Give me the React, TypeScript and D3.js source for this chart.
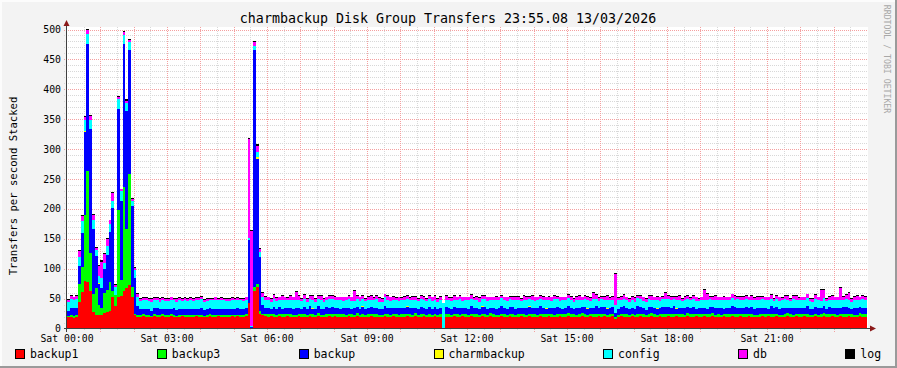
import React from 'react';
import * as d3 from 'd3';

const seriesNames = ['backup1', 'backup3', 'backup', 'charmbackup', 'config', 'db', 'log'];
const seriesColors = ['#FF0000', '#00FF00', '#0000FF', '#FFFF00', '#00FFFF', '#FF00FF', '#000000'];

// 5-minute samples, 12 per hour, 00:00 .. 23:55
const backup1 = [
  19,19,18,20,44,61,80,78,62,28,22,22,
  23,26,27,30,53,37,53,55,62,68,72,52,
  22,20,20,21,20,20,19,21,20,20,21,20,
  20,21,20,19,20,21,20,20,19,20,21,20,
  20,19,20,21,20,20,21,20,19,20,20,21,
  20,21,20,20,21,42,1,62,70,25,22,21,
  20,21,20,19,21,20,20,21,20,19,20,21,
  20,20,19,21,20,20,21,19,20,20,21,20,
  21,20,20,19,20,21,20,20,21,19,20,20,
  20,21,20,20,19,20,21,20,20,21,20,19,
  20,20,21,20,19,21,20,20,21,20,20,19,
  21,20,20,0,20,19,20,21,20,20,21,20,
  20,21,20,20,19,21,20,20,21,20,19,20,
  21,20,20,21,20,20,19,21,20,20,21,20,
  20,20,21,20,20,21,20,19,20,21,20,20,
  21,20,20,19,20,21,20,20,21,20,20,21,
  20,21,20,20,21,16,20,21,20,20,19,21,
  20,20,21,20,19,20,21,20,20,21,20,20,
  21,20,20,21,20,20,19,21,20,20,21,20,
  20,21,20,20,21,20,20,19,21,20,20,21,
  20,20,21,20,20,21,20,20,19,20,21,20,
  21,20,20,21,20,19,20,21,20,20,21,20,
  20,21,20,20,19,21,20,20,21,20,20,21,
  20,20,21,20,20,21,20,19,20,21,20,20,
];

const backup3 = [
  2,4,3,3,31,42,110,185,65,30,45,18,
  12,34,38,48,10,19,145,26,175,99,187,18,
  3,3,2,3,2,3,2,3,3,2,3,2,
  2,3,3,2,3,2,3,2,3,3,2,3,
  3,2,3,3,2,3,2,3,3,2,3,2,
  3,2,3,2,3,0,0,8,5,4,3,3,
  4,3,5,4,3,4,4,3,5,4,3,4,
  4,5,3,4,4,3,5,4,3,4,4,5,
  3,4,4,5,3,4,4,3,5,4,4,3,
  4,3,5,4,4,3,4,5,3,4,4,3,
  5,4,3,4,4,5,3,4,4,3,5,4,
  4,3,4,0,4,5,3,4,4,3,4,5,
  3,4,4,5,3,4,4,3,5,4,4,3,
  4,5,3,4,4,3,5,4,4,3,4,4,
  4,3,4,5,4,3,4,4,5,3,4,4,
  5,4,4,3,4,5,4,3,4,4,5,3,
  4,4,3,5,4,4,3,4,5,4,3,4,
  3,5,4,4,3,4,5,4,3,4,4,5,
  4,4,5,3,4,4,3,5,4,4,3,4,
  5,3,4,4,5,3,4,4,3,5,4,4,
  4,4,3,5,4,4,5,3,4,4,3,5,
  3,5,4,4,3,4,4,5,4,3,4,4,
  4,4,5,3,4,4,3,4,5,4,4,3,
  5,3,4,4,5,3,4,4,3,5,4,4,
];

const backup = [
  9,12,13,12,29,57,139,212,207,109,55,35,
  32,40,58,83,138,0,169,133,239,197,207,135,
  60,15,10,9,11,10,9,10,11,10,9,10,
  10,9,11,10,10,9,10,11,10,9,10,10,
  11,10,9,10,11,10,9,10,10,11,9,10,
  10,11,9,10,10,106,2,395,209,91,15,11,
  10,9,11,10,12,9,10,11,9,10,12,10,
  9,11,10,12,9,10,11,10,9,12,10,11,
  11,10,9,10,12,10,9,11,10,10,12,9,
  10,12,9,11,10,9,12,10,11,9,10,12,
  9,10,12,10,11,9,10,12,10,9,11,10,
  11,9,10,0,12,10,9,11,10,12,9,10,
  10,12,11,9,10,11,12,10,9,11,10,12,
  12,10,9,11,12,10,11,9,10,12,11,10,
  10,11,12,10,9,11,10,12,11,10,9,11,
  11,10,9,12,11,10,12,10,9,11,12,10,
  12,11,10,9,11,6,10,11,12,10,11,9,
  10,12,11,10,9,12,10,11,10,9,12,11,
  11,10,12,9,11,10,12,10,11,12,9,10,
  10,11,9,12,10,11,10,12,9,10,11,12,
  12,10,11,10,12,9,11,10,12,11,10,9,
  9,12,10,11,10,12,11,9,10,12,10,11,
  11,10,12,10,9,11,12,10,11,9,12,10,
  10,11,9,12,11,10,9,11,12,10,11,10,
];

const charmbackup = [
  0,0,0,0,0,0,2,0,0,0,0,1,
  0,0,0,0,0,0,0,0,0,0,0,0,
  0,0,0,0,0,0,0,0,0,0,0,0,
  0,0,0,0,0,0,0,0,0,0,0,0,
  0,0,0,0,0,0,1,0,0,0,0,0,
  0,0,0,0,0,0,0,0,2,0,0,0,
  0,0,0,0,0,0,0,0,1,0,0,0,
  0,0,0,0,1,0,0,0,0,0,0,0,
  0,1,0,0,0,0,0,0,0,0,1,0,
  0,0,0,0,0,0,1,0,0,0,0,0,
  0,0,1,0,0,0,0,0,0,1,0,0,
  0,0,0,1,0,0,0,0,1,0,0,0,
  0,0,0,0,0,1,0,0,0,0,0,0,
  1,0,0,0,0,0,0,0,0,0,1,0,
  0,0,0,0,1,0,0,0,0,0,0,0,
  0,0,0,0,0,0,0,1,0,0,0,0,
  0,0,1,0,0,0,0,0,0,0,0,0,
  0,0,0,0,0,0,0,0,1,0,0,0,
  0,0,0,1,0,0,0,0,0,0,0,0,
  0,0,0,0,0,0,1,0,0,0,0,0,
  0,1,0,0,0,0,0,0,0,0,1,0,
  0,0,0,0,0,0,0,0,0,0,0,0,
  0,0,0,0,1,0,0,0,0,0,0,0,
  0,0,0,0,0,0,0,0,0,0,0,0,
];

const config = [
  14,14,13,14,16,19,18,17,15,14,10,12,
  18,10,15,13,13,14,16,16,14,13,13,9,
  12,15,14,15,14,13,15,14,14,13,15,14,
  14,15,13,14,15,14,14,13,15,14,14,15,
  15,14,14,13,14,15,14,14,15,13,14,14,
  14,13,15,14,14,4,2,7,9,8,12,13,
  13,12,14,13,12,14,13,12,13,14,12,13,
  13,14,12,13,14,12,13,14,13,12,14,13,
  12,13,14,12,13,14,13,12,14,13,12,14,
  14,12,13,14,12,13,14,13,12,14,13,12,
  13,14,12,13,14,12,13,14,12,13,14,13,
  12,13,14,41,12,13,14,12,13,14,12,13,
  14,13,12,14,13,12,14,13,12,13,14,12,
  13,12,14,13,12,14,13,12,14,13,12,14,
  12,14,13,12,14,13,12,14,13,12,14,13,
  14,13,12,14,13,12,14,13,12,14,13,12,
  13,12,14,13,12,13,14,12,13,14,12,13,
  12,14,13,12,14,13,12,13,14,12,13,14,
  14,13,12,14,13,12,14,13,12,14,13,12,
  13,12,14,13,12,14,13,12,14,13,12,14,
  12,14,13,12,14,13,12,14,13,12,14,13,
  14,13,12,14,13,12,14,13,12,14,13,12,
  13,12,14,13,12,14,13,12,14,13,12,14,
  12,14,13,12,14,13,12,14,13,12,14,13,
];

const db = [
  4,5,5,5,9,9,5,7,6,9,3,16,
  27,14,12,7,12,3,4,3,6,4,4,3,
  4,5,3,3,4,3,4,3,3,4,3,4,
  3,4,3,4,3,3,4,3,4,3,4,3,
  4,3,4,3,3,4,3,4,3,4,3,4,
  3,4,3,3,4,165,158,7,11,5,7,5,
  5,4,6,5,4,8,5,4,6,5,14,6,
  4,6,5,4,6,5,4,8,5,4,6,5,
  6,4,5,6,4,5,6,16,4,6,5,4,
  5,6,4,5,6,4,5,6,6,5,4,6,
  4,5,6,4,5,6,4,5,6,4,5,6,
  6,4,5,0,6,4,5,6,4,5,6,4,
  5,6,4,5,6,5,4,6,5,4,6,5,
  4,5,6,4,5,6,5,4,6,5,4,6,
  6,4,5,6,4,5,6,5,4,6,5,4,
  5,6,4,5,6,4,5,6,5,11,6,5,
  4,5,6,4,5,52,4,5,6,4,5,6,
  6,4,5,6,4,5,6,4,5,6,4,10,
  5,6,4,5,6,4,5,6,4,5,6,4,
  4,17,11,4,5,6,4,5,6,4,5,6,
  6,4,5,6,4,5,6,4,5,6,4,5,
  5,6,4,5,6,4,5,6,4,5,6,4,
  4,5,6,4,5,6,4,18,14,4,5,6,
  5,4,20,5,6,12,4,5,6,4,5,6,
];

const log = [
  1.5,1.5,1.5,1.5,2,2,2,2,2,2,2,2,
  2,2,2,1,2,2,1,1,2,2,1,2,
  2,2,1.5,1.5,1.5,1.5,1.5,1.5,1.5,1.5,1.5,1.5,
  1.5,1.5,1.5,1.5,1.5,1.5,1.5,1.5,1.5,1.5,1.5,1.5,
  1.5,1.5,1.5,1.5,1.5,1.5,1.5,1.5,1.5,1.5,1.5,1.5,
  1.5,1.5,1.5,1.5,1.5,2,1,2,2,2,2,1.5,
  1.5,1.5,1.5,1.5,1.5,1.5,1.5,1.5,1.5,1.5,2,1.5,
  1.5,1.5,1.5,1.5,1.5,1.5,1.5,1.5,1.5,1.5,1.5,1.5,
  1.5,1.5,1.5,1.5,1.5,1.5,1.5,2,1.5,1.5,1.5,1.5,
  1.5,1.5,1.5,1.5,1.5,1.5,1.5,1.5,1.5,1.5,1.5,1.5,
  1.5,1.5,1.5,1.5,1.5,1.5,1.5,1.5,1.5,1.5,1.5,1.5,
  1.5,1.5,1.5,1,1.5,1.5,1.5,1.5,1.5,1.5,1.5,1.5,
  1.5,1.5,1.5,1.5,1.5,1.5,1.5,1.5,1.5,1.5,1.5,1.5,
  1.5,1.5,1.5,1.5,1.5,1.5,1.5,1.5,1.5,1.5,1.5,1.5,
  1.5,1.5,1.5,1.5,1.5,1.5,1.5,1.5,1.5,1.5,1.5,1.5,
  1.5,1.5,1.5,1.5,1.5,1.5,1.5,1.5,1.5,1.5,1.5,1.5,
  1.5,1.5,1.5,1.5,1.5,1.5,1.5,1.5,1.5,1.5,1.5,1.5,
  1.5,1.5,1.5,1.5,1.5,1.5,1.5,1.5,1.5,1.5,1.5,1.5,
  1.5,1.5,1.5,1.5,1.5,1.5,1.5,1.5,1.5,1.5,1.5,1.5,
  1.5,2,1.5,1.5,1.5,1.5,1.5,1.5,1.5,1.5,1.5,1.5,
  1.5,1.5,1.5,1.5,1.5,1.5,1.5,1.5,1.5,1.5,1.5,1.5,
  1.5,1.5,1.5,1.5,1.5,1.5,1.5,1.5,1.5,1.5,1.5,1.5,
  1.5,1.5,1.5,1.5,1.5,1.5,1.5,2,1.5,1.5,1.5,1.5,
  1.5,1.5,2,1.5,1.5,1.5,1.5,1.5,1.5,1.5,1.5,1.5,
];

const yTickValues = [0, 50, 100, 150, 200, 250, 300, 350, 400, 450, 500];
const xTickHours = [0, 3, 6, 9, 12, 15, 18, 21];
const xTickLabels = ['Sat 00:00', 'Sat 03:00', 'Sat 06:00', 'Sat 09:00', 'Sat 12:00', 'Sat 15:00', 'Sat 18:00', 'Sat 21:00'];
const titleText = 'charmbackup Disk Group Transfers 23:55.08 13/03/2026';
const yAxisTitle = 'Transfers per second Stacked';
const watermark = 'RRDTOOL / TOBI OETIKER';

const FONT = '"DejaVu Sans Mono", monospace';

export default function App() {
  const W = 897, H = 368;
  const left = 67, right = 867, top = 29.5, bottom = 328.5;
  const seriesData = [backup1, backup3, backup, charmbackup, config, db, log];
  const n = backup1.length;
  const x = d3.scaleLinear().domain([0, n]).range([left, right]);
  const y = d3.scaleLinear().domain([0, 500]).range([bottom, top]);

  const rows = d3.range(n + 1).map((i) => {
    const j = Math.min(i, n - 1);
    const o: any = { i };
    seriesNames.forEach((k, s) => { o[k] = seriesData[s][j]; });
    return o;
  });
  const stacked = d3.stack<any>().keys(seriesNames)(rows);
  const area = d3.area<any>()
    .x((d) => x(d.data.i))
    .y0((d) => y(d[0]))
    .y1((d) => y(d[1]))
    .curve(d3.curveStepAfter);

  const perHour = n / 24;
  const minorY = d3.range(0, 501, 10).filter((v) => v % 50 !== 0);
  const majorY = yTickValues.filter((v) => v > 0);
  const halfHours = d3.range(1, 48).map((h) => h / 2);
  const minorX = halfHours.filter((h) => h % 1 !== 0);
  const majorX = d3.range(1, 24);

  // legend justified across the width
  const charW = 6.9;
  const legendStart = 15, legendEnd = 881;
  const itemW = seriesNames.map((s) => 15 + s.length * charW);
  const gap = (legendEnd - legendStart - d3.sum(itemW)) / (seriesNames.length - 1);
  const legendX: number[] = [];
  let cx = legendStart;
  itemW.forEach((w) => { legendX.push(cx); cx += w + gap; });

  const gridMinor = '#D8D8D8';
  const gridMajor = '#F4A0A0';

  return (
    <svg width={W} height={H} style={{ position: 'absolute', left: 0, top: 0, display: 'block' }}
      xmlns="http://www.w3.org/2000/svg">
      <rect x={0} y={0} width={W} height={H} fill="#F3F3F3" />
      {/* frame shading */}
      <rect x={0} y={0} width={W} height={2} fill="#FCFCFC" />
      <rect x={0} y={0} width={2} height={H} fill="#FCFCFC" />
      <rect x={0} y={H - 2} width={W} height={2} fill="#9A9A9A" />
      <rect x={W - 2} y={0} width={2} height={H} fill="#9A9A9A" />
      {/* canvas */}
      <rect x={left} y={27} width={right - left + 1} height={bottom - 27} fill="#FFFFFF" />

      {/* grid */}
      <g shapeRendering="crispEdges">
        {minorY.map((v) => (
          <line key={'my' + v} x1={left - 3} x2={right} y1={Math.round(y(v)) + 0.5} y2={Math.round(y(v)) + 0.5}
            stroke={gridMinor} strokeDasharray="1,1" />
        ))}
        {minorX.map((h) => (
          <line key={'mx' + h} x1={Math.round(x(h * perHour)) + 0.5} x2={Math.round(x(h * perHour)) + 0.5}
            y1={27} y2={bottom + 2} stroke={gridMinor} strokeDasharray="1,1" />
        ))}
        {majorY.map((v) => (
          <line key={'My' + v} x1={left - 3} x2={right} y1={Math.round(y(v)) + 0.5} y2={Math.round(y(v)) + 0.5}
            stroke={gridMajor} strokeDasharray="1,1" />
        ))}
        {majorX.map((h) => (
          <line key={'Mx' + h} x1={Math.round(x(h * perHour)) + 0.5} x2={Math.round(x(h * perHour)) + 0.5}
            y1={27} y2={bottom + 3} stroke={gridMajor} strokeDasharray="1,1" />
        ))}
      </g>

      {/* stacked areas */}
      <g shapeRendering="crispEdges">
        {stacked.map((s, k) => (
          <path key={seriesNames[k]} d={area(s as any) || ''} fill={seriesColors[k]} />
        ))}
      </g>

      {/* axes */}
      <g shapeRendering="crispEdges">
        <line x1={left - 0.5} x2={left - 0.5} y1={22} y2={bottom + 3} stroke="#404040" />
        <line x1={left - 3} x2={right + 4} y1={bottom} y2={bottom} stroke="#404040" />
      </g>
      <path d={`M${left - 3.5},${26} L${left + 2.5},${26} L${left - 0.5},${20} Z`} fill="#8B1A1A" />
      <path d={`M${right + 3},${bottom - 3} L${right + 3},${bottom + 3} L${right + 9},${bottom} Z`} fill="#8B1A1A" />

      {/* y tick labels */}
      {yTickValues.map((v) => (
        <text key={'yl' + v} x={61} y={y(v) + 3.5} textAnchor="end" fontFamily={FONT} fontSize={9.8} fill="#000">
          {v}
        </text>
      ))}
      {/* x tick labels */}
      {xTickHours.map((h, i) => (
        <text key={'xl' + h} x={x(h * perHour)} y={341.5} textAnchor="middle" fontFamily={FONT} fontSize={9.8} fill="#000">
          {xTickLabels[i]}
        </text>
      ))}

      {/* title */}
      <text x={448} y={23} textAnchor="middle" fontFamily={FONT} fontSize={13.3} fill="#000">{titleText}</text>
      {/* y axis title */}
      <text transform={`translate(16.5,186) rotate(-90)`} textAnchor="middle" fontFamily={FONT} fontSize={10.6} fill="#000">
        {yAxisTitle}
      </text>
      {/* watermark */}
      <text transform={`translate(884,59) rotate(90)`} textAnchor="middle" fontFamily={FONT} fontSize={8.2} fill="#A8A8A8">
        {watermark}
      </text>

      {/* legend */}
      {seriesNames.map((s, k) => (
        <g key={'lg' + s}>
          <rect x={legendX[k] + 0.5} y={349.5} width={9} height={9} fill={seriesColors[k]} stroke="#000" strokeWidth={1}
            shapeRendering="crispEdges" />
          <text x={legendX[k] + 15} y={358} fontFamily={FONT} fontSize={11.5} fill="#000">{s}</text>
        </g>
      ))}
    </svg>
  );
}
